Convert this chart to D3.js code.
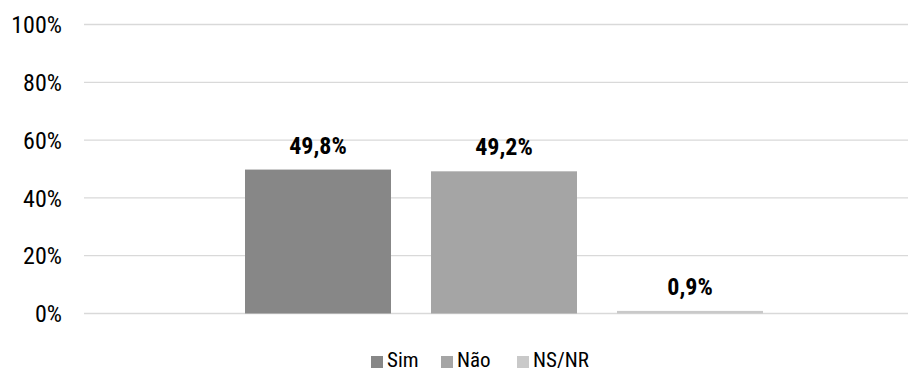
<!DOCTYPE html>
<html><head><meta charset="utf-8">
<script src="https://cdn.jsdelivr.net/npm/d3@7"></script>
<style>
body{margin:0;background:#fff;}
text{font-family:"Liberation Sans Narrow","Roboto Condensed","Arial Narrow",Roboto,sans-serif;}
</style></head>
<body><svg id="c" width="909" height="374"></svg>
<script>
const categories = ["Sim","Não","NS/NR"];
const values = [49.8, 49.2, 0.9];
const labels = ["49,8%","49,2%","0,9%"];
const colors = ["#878787","#a5a5a5","#c9c9c9"];
const yTicks = [0,20,40,60,80,100];

const svg = d3.select("#c");
const y = d3.scaleLinear().domain([0,100]).range([313.5,24.5]);
const x = d3.scaleBand().domain(categories).range([225,783]).paddingInner(40/186).paddingOuter(20/186);

svg.append("g").selectAll("line").data(yTicks).join("line")
  .attr("x1",84).attr("x2",908)
  .attr("y1",d=>y(d)).attr("y2",d=>y(d))
  .attr("stroke","#d9d9d9").attr("stroke-width",1.3);

svg.append("g").selectAll("text").data(yTicks).join("text")
  .attr("x",62).attr("y",d=>y(d)).attr("dy","0.36em")
  .attr("text-anchor","end").attr("font-size",24).attr("fill","#000")
  .text(d=>d+"%");

svg.append("g").selectAll("rect").data(values).join("rect")
  .attr("x",(d,i)=>x(categories[i])).attr("width",x.bandwidth())
  .attr("y",d=>y(d)).attr("height",d=>y(0)-y(d))
  .attr("fill",(d,i)=>colors[i]);

svg.append("g").selectAll("text").data(values).join("text")
  .attr("x",(d,i)=>x(categories[i])+x.bandwidth()/2)
  .attr("y",d=>y(d)-16)
  .attr("text-anchor","middle").attr("font-size",24).attr("font-weight","bold")
  .text((d,i)=>labels[i]);

// legend
const lg = svg.append("g");
const lx = [371,441,517];
categories.forEach((c,i)=>{
  lg.append("rect").attr("x",lx[i]).attr("y",356).attr("width",12).attr("height",12).attr("fill",colors[i]);
  lg.append("text").attr("x",lx[i]+16).attr("y",367).attr("font-size",21).text(c);
});
</script></body></html>
